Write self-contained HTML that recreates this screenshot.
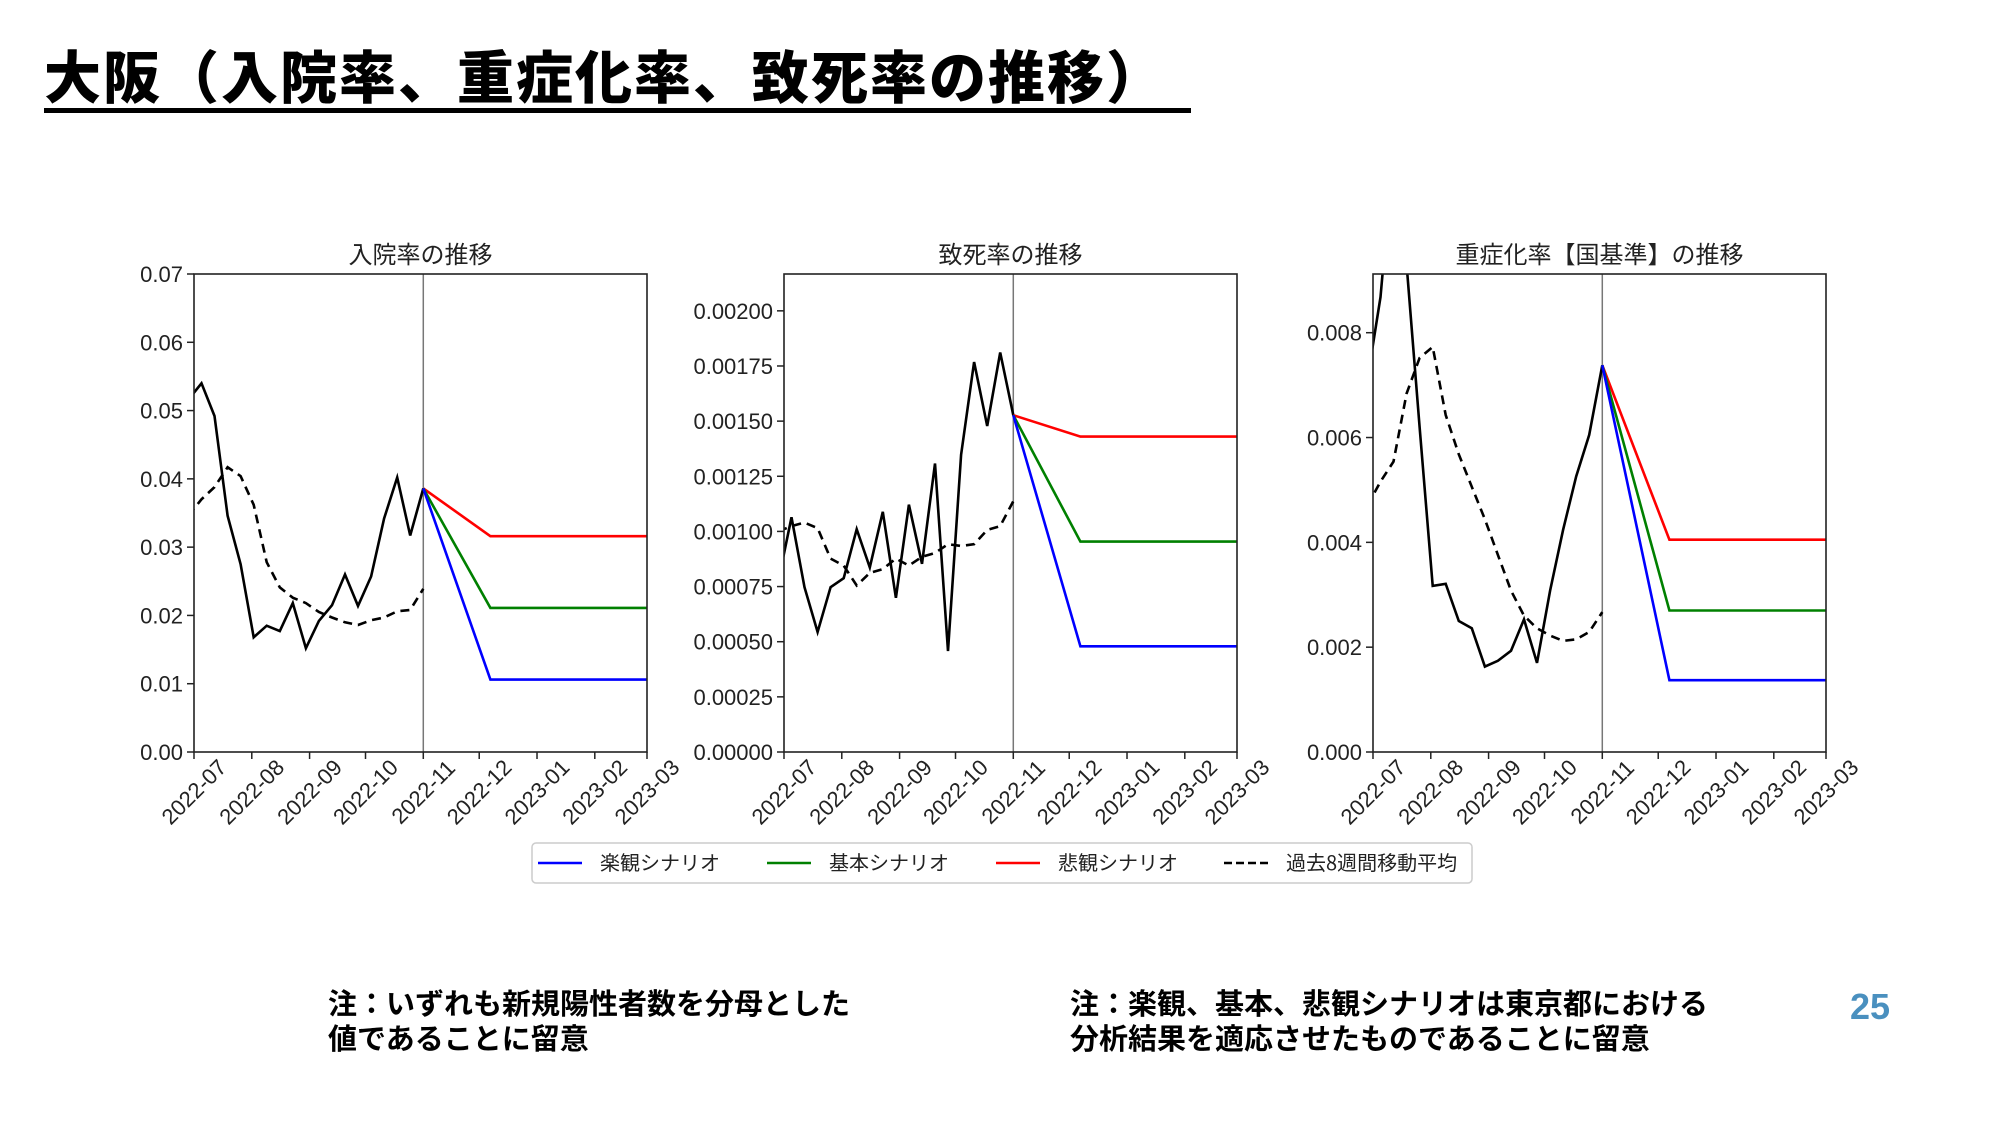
<!DOCTYPE html>
<html><head><meta charset="utf-8">
<style>
html,body{margin:0;padding:0;background:#fff;}
body{width:2000px;height:1125px;position:relative;overflow:hidden;font-family:"Liberation Sans","Noto Sans CJK JP",sans-serif;}
#title{position:absolute;left:44px;top:40px;font-family:"Noto Sans CJK JP",sans-serif;font-weight:900;font-size:57px;line-height:68px;color:#000;white-space:nowrap;border-bottom:5px solid #000;padding-right:26px;letter-spacing:2px;}
.note{position:absolute;font-family:"Noto Sans CJK JP",sans-serif;font-weight:700;font-size:29px;line-height:35px;color:#000;white-space:nowrap;}
#page{position:absolute;left:1850px;top:986px;font-family:"Liberation Sans",sans-serif;font-weight:700;font-size:36px;color:#4a90bf;}
svg{position:absolute;left:0;top:0;}
</style></head>
<body>
<div id="title">大阪（入院率、重症化率、致死率の推移）</div>
<svg id="chart" width="2000" height="1125"></svg>
<div class="note" style="left:328px;top:985px;">注：いずれも新規陽性者数を分母とした<br>値であることに留意</div>
<div class="note" style="left:1070px;top:985px;">注：楽観、基本、悲観シナリオは東京都における<br>分析結果を適応させたものであることに留意</div>
<div id="page">25</div>
<script>
const dates = ["2022-06-28","2022-07-05","2022-07-12","2022-07-19","2022-07-26","2022-08-02","2022-08-09","2022-08-16","2022-08-23","2022-08-30","2022-09-06","2022-09-13","2022-09-20","2022-09-27","2022-10-04","2022-10-11","2022-10-18","2022-10-25","2022-11-01"];
const projDates = ["2022-11-01","2022-12-07","2023-03-01"];
const xTickLabels = ["2022-07","2022-08","2022-09","2022-10","2022-11","2022-12","2023-01","2023-02","2023-03"];

const hospTitle = "入院率の推移";
const hospActual = [0.0516,0.054,0.0492,0.0346,0.0275,0.0168,0.0185,0.0177,0.0218,0.0152,0.0192,0.0215,0.026,0.0214,0.0257,0.0342,0.0402,0.0317,0.0386];
const hospMA = [0.0346,0.037,0.0388,0.0417,0.0404,0.0362,0.0278,0.0241,0.0226,0.0218,0.0205,0.0197,0.019,0.0186,0.0193,0.0197,0.0206,0.0208,0.0239];
const hospOpt = [0.0386,0.0106,0.0106];
const hospBase = [0.0386,0.0211,0.0211];
const hospPes = [0.0386,0.0316,0.0316];
const hospYTicks = [0,0.01,0.02,0.03,0.04,0.05,0.06,0.07];

const deathTitle = "致死率の推移";
const deathActual = [0.000777,0.001064,0.000747,0.000544,0.000747,0.000788,0.00101,0.000837,0.001089,0.000699,0.001121,0.000853,0.001308,0.000458,0.001348,0.001768,0.001478,0.001811,0.001527];
const deathMA = [0.00100,0.001024,0.00104,0.001015,0.000877,0.000845,0.000755,0.000812,0.000829,0.000877,0.000845,0.000885,0.000902,0.000942,0.000934,0.000942,0.001007,0.001024,0.001137];
const deathOpt = [0.001527,0.000479,0.000479];
const deathBase = [0.001527,0.000954,0.000954];
const deathPes = [0.001527,0.00143,0.00143];
const deathYTicks = [0,0.00025,0.0005,0.00075,0.001,0.00125,0.0015,0.00175,0.002];

const sevTitle = "重症化率【国基準】の推移";
const sevActual = [0.0071,0.00868,0.0115,0.0093,0.0062,0.00317,0.00321,0.0025,0.00236,0.00163,0.00174,0.00193,0.00253,0.0017,0.00308,0.00424,0.00526,0.00605,0.00738];
const sevMA = [0.0047,0.00516,0.00554,0.00684,0.00752,0.00773,0.00643,0.00568,0.00506,0.00444,0.00376,0.00308,0.0026,0.00236,0.00222,0.00212,0.00215,0.00229,0.00267];
const sevOpt = [0.00738,0.00137,0.00137];
const sevBase = [0.00738,0.0027,0.0027];
const sevPes = [0.00738,0.00405,0.00405];
const sevYTicks = [0,0.002,0.004,0.006,0.008];

const NS = "http://www.w3.org/2000/svg";
const svg = document.getElementById("chart");
const TOP = 274, BOT = 752, W = 453;
const X0 = Date.parse("2022-07-01"), X1 = Date.parse("2023-03-01"), XV = Date.parse("2022-11-01");

function mk(tag, attrs, parent){ const e=document.createElementNS(NS,tag); for(const k in attrs) e.setAttribute(k,attrs[k]); (parent||svg).appendChild(e); return e; }

function drawPanel(id, left, yMax, yTicks, dec, title, actual, ma, opt, base, pes){
  const g = mk("g",{});
  
  
  const xS = d => left + (Date.parse(d)-X0)/(X1-X0)*W;
  const xT = t => left + (t-X0)/(X1-X0)*W;
  const yS = v => BOT - v/yMax*(BOT-TOP);
  const clipId = "clip-"+id;
  const cp = mk("clipPath",{id:clipId},g); mk("rect",{x:left,y:TOP,width:W,height:BOT-TOP},cp);
  const t = mk("text",{x:left+W/2,y:TOP-11,"text-anchor":"middle","font-size":24,"font-family":"Noto Sans CJK JP, sans-serif",fill:"#222"},g);
  t.textContent = title;
  
  
  yTicks.forEach(v=>{
    const y=yS(v);
    mk("line",{x1:left-7,x2:left,y1:y,y2:y,stroke:"#222","stroke-width":1.5},g);
    const lb=mk("text",{x:left-11,y:y+8,"text-anchor":"end","font-size":22,fill:"#222"},g);
    lb.textContent=v.toFixed(dec);
    
    
  });
  xTickLabels.forEach(s=>{
    const x=xS(s+"-01");
    mk("line",{x1:x,x2:x,y1:BOT,y2:BOT+7,stroke:"#222","stroke-width":1.5},g);
    const lb=mk("text",{x:x,y:BOT+40,"text-anchor":"middle","dominant-baseline":"central","font-size":22,fill:"#222",transform:`rotate(-45 ${x} ${BOT+40})`},g);
    lb.textContent=s;
    
    
  });
  const vx=xT(XV);
  const vl=mk("line",{x1:vx,x2:vx,y1:TOP,y2:BOT,stroke:"#777","stroke-width":1.5},g);
  
  
  const pl=(ds,vals,color,dash,name)=>{
    const p=mk("polyline",{points:vals.map((v,i)=>xS(ds[i]).toFixed(1)+","+yS(v).toFixed(1)).join(" "),fill:"none",stroke:color,"stroke-width":2.6,"stroke-linejoin":"miter","clip-path":`url(#${clipId})`},g);
    if(dash) p.setAttribute("stroke-dasharray","9,6");
    
    
  };
  pl(dates,ma,"#000",true,"moving-average-line");
  pl(dates,actual,"#000",false,"actual-line");
  pl(projDates,pes,"#ff0000",false,"pessimistic-line");
  pl(projDates,base,"#008000",false,"baseline-line");
  pl(projDates,opt,"#0000ff",false,"optimistic-line");
  const fr=mk("rect",{x:left,y:TOP,width:W,height:BOT-TOP,fill:"none",stroke:"#222","stroke-width":1.6},g);
  
  
}
drawPanel("hospitalization",194,0.07,hospYTicks,2,hospTitle,hospActual,hospMA,hospOpt,hospBase,hospPes);
drawPanel("fatality",784,0.002167,deathYTicks,5,deathTitle,deathActual,deathMA,deathOpt,deathBase,deathPes);
drawPanel("severity",1373,0.00912,sevYTicks,3,sevTitle,sevActual,sevMA,sevOpt,sevBase,sevPes);

const legendLabels = ["楽観シナリオ","基本シナリオ","悲観シナリオ","過去8週間移動平均"];
const legendColors = ["#0000ff","#008000","#ff0000","#000"];
const lg = mk("g",{});


mk("rect",{x:532,y:843,width:940,height:40,rx:4,fill:"#fff",stroke:"#ccc","stroke-width":1.5},lg);
const lx=[538,767,996,1224];
legendLabels.forEach((s,i)=>{
  const e=mk("g",{},lg);
  
  
  const l=mk("line",{x1:lx[i],x2:lx[i]+44,y1:863,y2:863,stroke:legendColors[i],"stroke-width":2.6},e);
  if(i===3) l.setAttribute("stroke-dasharray","8,4");
  const t=mk("text",{x:lx[i]+62,y:870,"font-size":20,"font-family":"Noto Sans CJK JP, sans-serif",fill:"#222"},e);
  t.textContent=s;
});
</script>
</body></html>
